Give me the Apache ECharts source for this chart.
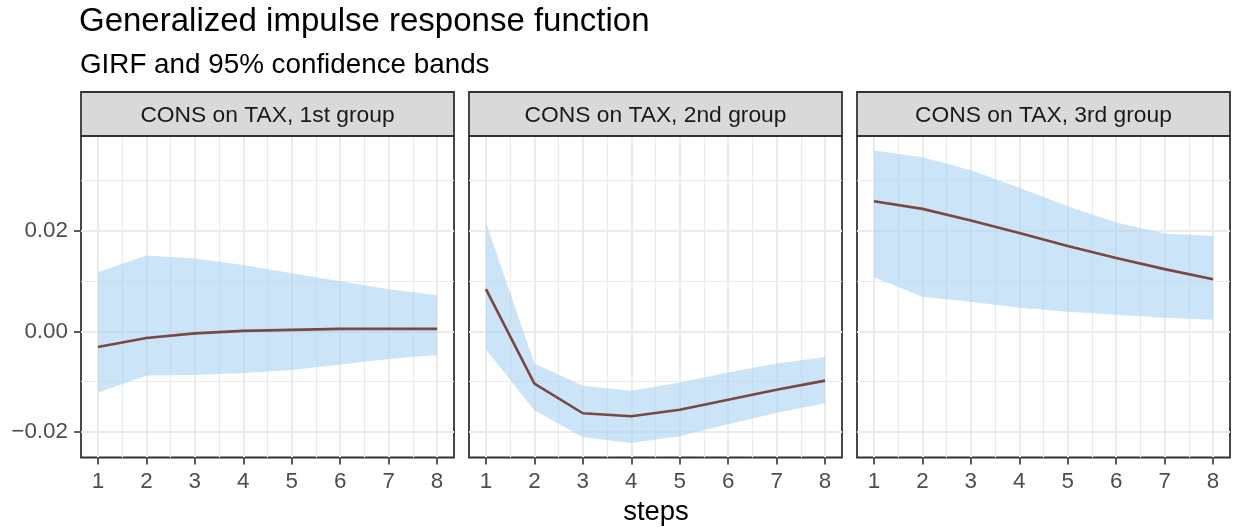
<!DOCTYPE html>
<html>
<head>
<meta charset="utf-8">
<script src="https://cdn.jsdelivr.net/npm/echarts@6/dist/echarts.min.js"></script>
<style>
  html, body { margin: 0; padding: 0; background: #ffffff; }
  #chart { width: 1237px; height: 527px; }
</style>
</head>
<body>
<div id="chart"></div>
<script>
// Forecast horizon
const steps = [1, 2, 3, 4, 5, 6, 7, 8];

// Facet titles
const panelNames = ['CONS on TAX, 1st group', 'CONS on TAX, 2nd group', 'CONS on TAX, 3rd group'];

// 1st group
const girf1  = [-0.0031, -0.0013, -0.0004, 0.0001, 0.0003, 0.0005, 0.0005, 0.0005];
const upper1 = [0.0118, 0.0151, 0.0145, 0.0132, 0.0116, 0.0100, 0.0084, 0.0072];
const lower1 = [-0.0122, -0.0088, -0.0087, -0.0083, -0.0077, -0.0066, -0.0055, -0.0047];

// 2nd group
const girf2  = [0.0084, -0.0104, -0.0163, -0.0169, -0.0156, -0.0136, -0.0116, -0.0098];
const upper2 = [0.0217, -0.0064, -0.0108, -0.0118, -0.0102, -0.0082, -0.0064, -0.0051];
const lower2 = [-0.0036, -0.0157, -0.0211, -0.0222, -0.0209, -0.0185, -0.0162, -0.0143];

// 3rd group
const girf3  = [0.0259, 0.0244, 0.0221, 0.0196, 0.0170, 0.0146, 0.0124, 0.0104];
const upper3 = [0.0360, 0.0347, 0.0321, 0.0286, 0.0249, 0.0217, 0.0195, 0.0190];
const lower3 = [0.0108, 0.0069, 0.0059, 0.0047, 0.0039, 0.0033, 0.0027, 0.0023];

// Axis breaks
const yMajorTicks = [-0.02, 0.00, 0.02];
const yMinorTicks = [-0.01, 0.01, 0.03];

const panels = [
  { girf: girf1, upper: upper1, lower: lower1 },
  { girf: girf2, upper: upper2, lower: lower2 },
  { girf: girf3, upper: upper3, lower: lower3 }
];

const FONT = '"Liberation Sans", Arial, Helvetica, sans-serif';
const INK = '#333333';
const GRID_COLOR = '#EBEBEB';
const BAND_COLOR = 'rgba(170, 210, 242, 0.6)';
const LINE_COLOR = '#7B4741';

// Shared y scale with 5% padding, x with 5% padding around the steps
const allLo = Math.min(...lower1, ...lower2, ...lower3);
const allHi = Math.max(...upper1, ...upper2, ...upper3);
const yPad = (allHi - allLo) * 0.05;
const yMin = allLo - yPad, yMax = allHi + yPad;
const xPad = (steps[steps.length - 1] - steps[0]) * 0.05;
const xMin = steps[0] - xPad, xMax = steps[steps.length - 1] + xPad;
const xMinorTicks = steps.slice(1).map(s => s - 0.5);

const panelLeft = [81, 469, 857];
const panelWidth = 373;
const panelTop = 136;
const panelHeight = 321.5;
const stripTop = 92;

const fmtY = v => (v < 0 ? '\u2212' : '') + Math.abs(v).toFixed(2);

// Ribbon between lower (dim 1) and upper (dim 2) bounds, drawn once per series
function renderBand(params, api) {
  if (params.dataIndexInside !== 0) return null;
  const n = params.dataInsideLength;
  const pts = [];
  for (let j = 0; j < n; j++) pts.push(api.coord([api.value(0, j), api.value(2, j)]));
  for (let j = n - 1; j >= 0; j--) pts.push(api.coord([api.value(0, j), api.value(1, j)]));
  return {
    type: 'polygon',
    shape: { points: pts },
    style: { fill: BAND_COLOR, stroke: null }
  };
}

const grids = [], xAxes = [], yAxes = [], series = [], graphics = [];

panels.forEach((p, i) => {
  grids.push({
    left: panelLeft[i], top: panelTop, width: panelWidth, height: panelHeight,
    show: true, backgroundColor: '#ffffff', borderColor: INK, borderWidth: 1.8
  });

  // major x axis: labels, ticks and major grid lines
  xAxes.push({
    type: 'value', gridIndex: i, min: xMin, max: xMax, position: 'bottom',
    axisLine: { show: false, onZero: false },
    axisTick: { show: true, customValues: steps, length: 7, lineStyle: { color: INK, width: 1.6 } },
    axisLabel: { customValues: steps, margin: 13, fontSize: 22.4, color: '#4D4D4D', fontFamily: FONT },
    splitLine: { show: true, lineStyle: { color: GRID_COLOR, width: 2 } }
  });
  // minor x grid lines
  xAxes.push({
    type: 'value', gridIndex: i, min: xMin, max: xMax, position: 'top',
    axisLine: { show: false, onZero: false },
    axisTick: { show: false, customValues: xMinorTicks },
    axisLabel: { show: false },
    splitLine: { show: true, lineStyle: { color: GRID_COLOR, width: 1.2 } }
  });

  // major y axis
  yAxes.push({
    type: 'value', gridIndex: i, min: yMin, max: yMax, position: 'left',
    axisLine: { show: false, onZero: false },
    axisTick: { show: i === 0, customValues: yMajorTicks, length: 7, lineStyle: { color: INK, width: 1.6 } },
    axisLabel: { show: i === 0, customValues: yMajorTicks, margin: 13, fontSize: 22.4, color: '#4D4D4D', fontFamily: FONT, formatter: fmtY },
    splitLine: { show: true, lineStyle: { color: GRID_COLOR, width: 2 } }
  });
  // minor y grid lines
  yAxes.push({
    type: 'value', gridIndex: i, min: yMin, max: yMax, position: 'right',
    axisLine: { show: false, onZero: false },
    axisTick: { show: false, customValues: yMinorTicks },
    axisLabel: { show: false },
    splitLine: { show: true, lineStyle: { color: GRID_COLOR, width: 1.2 } }
  });

  const xi = i * 2, yi = i * 2;

  // 95% confidence band
  series.push({
    type: 'custom', xAxisIndex: xi, yAxisIndex: yi,
    data: steps.map((s, k) => [s, p.lower[k], p.upper[k]]),
    encode: { x: 0, y: [1, 2] },
    renderItem: renderBand, silent: true, z: 2
  });
  // GIRF line
  series.push({
    type: 'line', xAxisIndex: xi, yAxisIndex: yi,
    data: steps.map((s, k) => [s, p.girf[k]]),
    symbol: 'none', lineStyle: { color: LINE_COLOR, width: 2.6 }, z: 3
  });

  // facet strip
  graphics.push({
    type: 'rect', z: 10,
    shape: { x: panelLeft[i], y: stripTop, width: panelWidth, height: panelTop - stripTop },
    style: { fill: '#D9D9D9', stroke: INK, lineWidth: 1.8 }
  });
  graphics.push({
    type: 'text', z: 11,
    style: {
      text: panelNames[i], x: panelLeft[i] + panelWidth / 2, y: 115.5,
      textAlign: 'center', textVerticalAlign: 'middle',
      font: '22.8px ' + FONT, fill: '#1A1A1A'
    }
  });
});

graphics.push({
  type: 'text', z: 11,
  style: { text: 'Generalized impulse response function', x: 79, y: 22,
    textAlign: 'left', textVerticalAlign: 'middle', font: '33px ' + FONT, fill: '#000000' }
});
graphics.push({
  type: 'text', z: 11,
  style: { text: 'GIRF and 95% confidence bands', x: 80, y: 65,
    textAlign: 'left', textVerticalAlign: 'middle', font: '27.8px ' + FONT, fill: '#000000' }
});
graphics.push({
  type: 'text', z: 11,
  style: { text: 'steps', x: 656, y: 512,
    textAlign: 'center', textVerticalAlign: 'middle', font: '27.5px ' + FONT, fill: '#000000' }
});

const chart = echarts.init(document.getElementById('chart'), null, { renderer: 'canvas' });
chart.setOption({
  animation: false,
  backgroundColor: '#ffffff',
  grid: grids,
  xAxis: xAxes,
  yAxis: yAxes,
  series: series,
  graphic: graphics
});
</script>
</body>
</html>
